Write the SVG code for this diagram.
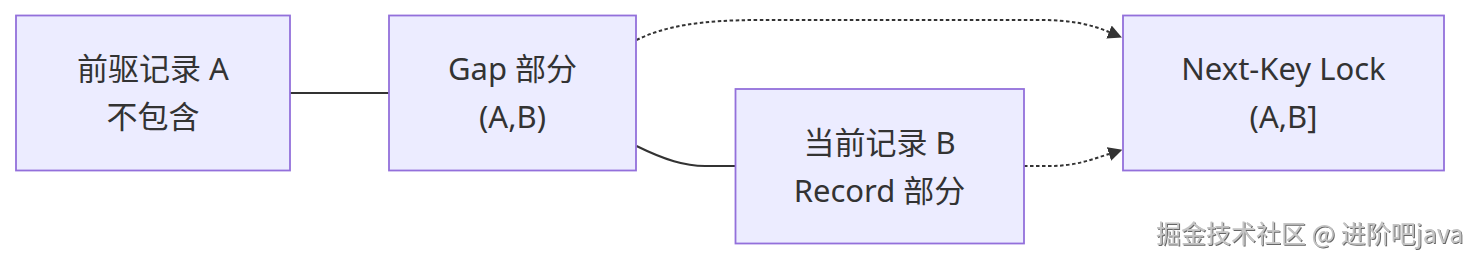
<svg xmlns="http://www.w3.org/2000/svg" width="1476" height="262" viewBox="0 0 1476 262">
<style>
.node rect{fill:#ECECFF;stroke:#9370DB;stroke-width:1.8}
.node text{font-family:"Noto Sans","Noto Sans CJK SC",sans-serif;font-size:31px;fill:#333;text-anchor:middle}
.edge{fill:none;stroke:#333;stroke-width:2}
.dotted{stroke-dasharray:3.5 2.5}
.wm{font-family:"Noto Sans CJK SC",sans-serif;font-size:25px;fill:#c4c4c4}
</style>
<defs>
<marker id="arrow" viewBox="0 0 10 10" refX="0" refY="5" markerUnits="userSpaceOnUse" markerWidth="14" markerHeight="14" orient="auto">
<path d="M0,0 L10,5 L0,10 z" fill="#333" stroke="none"/>
</marker>
<filter id="emboss" x="-5%" y="-20%" width="110%" height="140%">
<feDropShadow dx="1" dy="1" stdDeviation="0.4" flood-color="#555" flood-opacity="0.9"/>
</filter>
</defs>
<rect width="1476" height="262" fill="#ffffff"/>
<g id="connectors">
<path class="edge" d="M290,93 L389,93"/>
<path class="edge dotted" d="M636.5,40 C665,26 700,20 760,20 L1040,20 C1070,20 1090,24 1109,32" marker-end="url(#arrow)"/>
<path class="edge" d="M636.5,146 C665,160 685,166 705,166 L735.5,166"/>
<path class="edge dotted" d="M1024,166 L1050,166 C1075,166 1090,160 1109,154" marker-end="url(#arrow)"/>
</g>
<g id="nodeA" class="node">
<rect x="16" y="15.5" width="274" height="155"/>
<text x="153" y="80">前驱记录 A</text>
<text x="153" y="128">不包含</text>
</g>
<g id="nodeGap" class="node">
<rect x="389" y="15.5" width="247" height="155"/>
<text x="512.5" y="80">Gap 部分</text>
<text x="512.5" y="128">(A,B)</text>
</g>
<g id="nodeRecord" class="node">
<rect x="735.5" y="89" width="288.5" height="154.5"/>
<text x="879.5" y="153.5">当前记录 B</text>
<text x="879.5" y="201.5">Record 部分</text>
</g>
<g id="nodeNextKey" class="node">
<rect x="1123" y="15.5" width="321" height="155"/>
<text x="1283.5" y="80">Next-Key Lock</text>
<text x="1283.5" y="128">(A,B]</text>
</g>
<text class="wm" x="1156" y="243" filter="url(#emboss)">掘金技术社区 @ 进阶吧java</text>
</svg>
